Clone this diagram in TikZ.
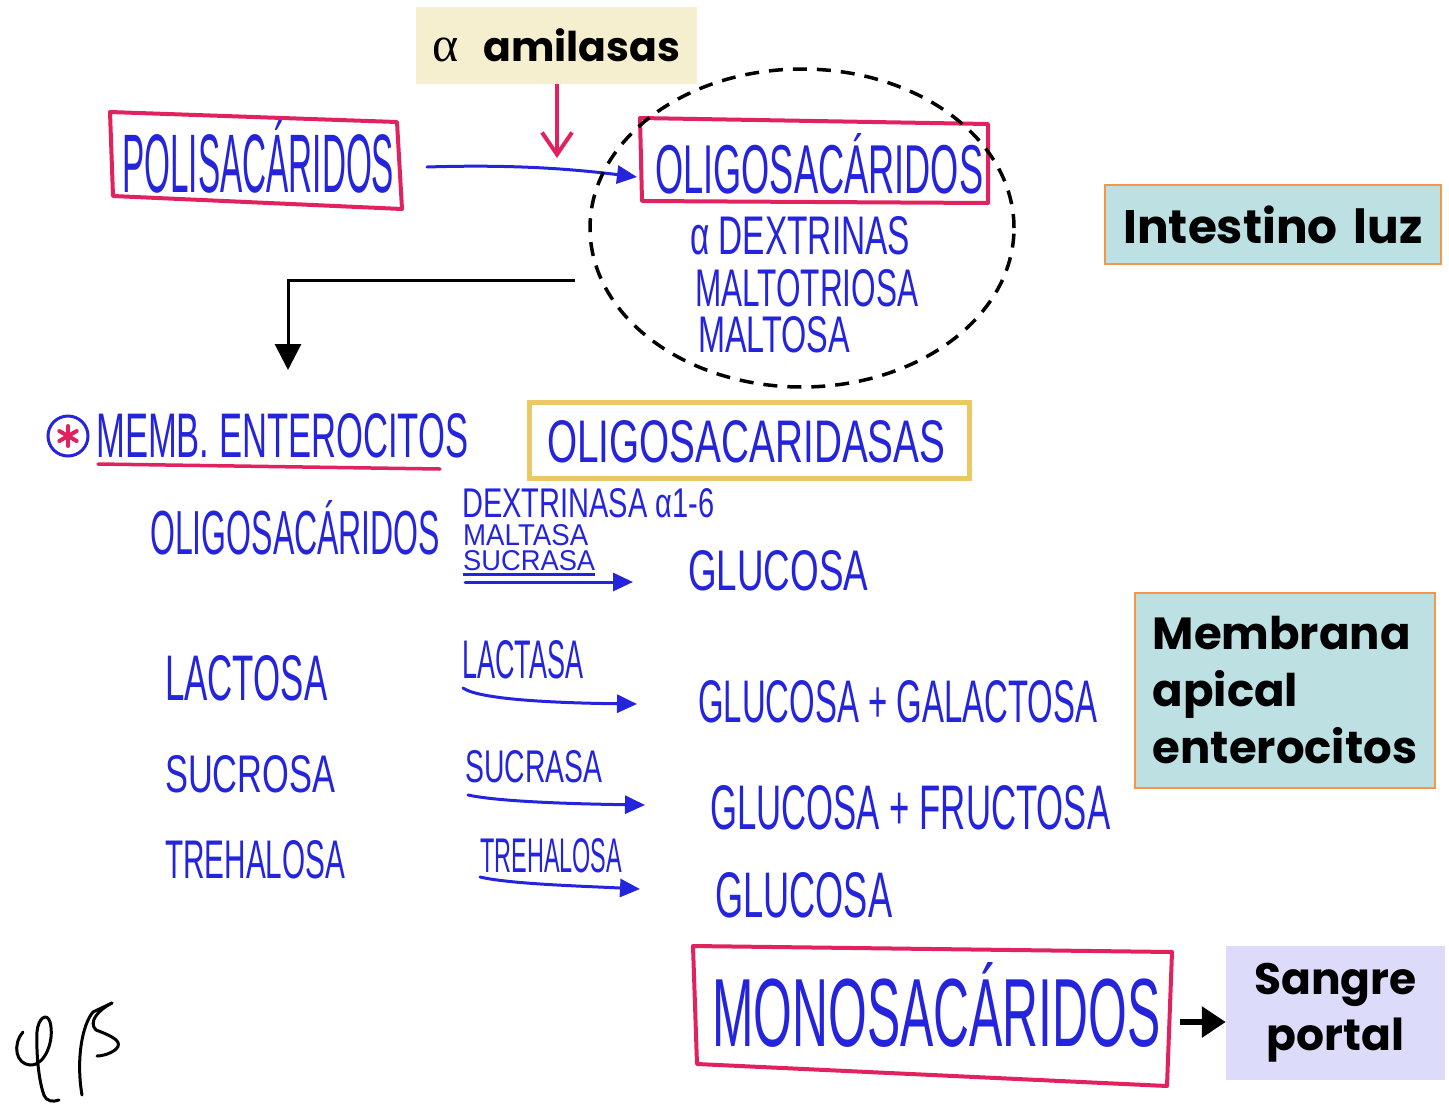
\documentclass[tikz,border=0pt]{standalone}
\usepackage{fontspec}
\usepackage{graphicx}
\usetikzlibrary{arrows.meta,shapes.geometric,calc}

\newfontfamily\hwfont{Liberation Sans}
\newfontfamily\labfont{Poppins}
\newfontfamily\greekfont{Liberation Serif}

\definecolor{ink}{HTML}{2424DC}
\definecolor{marker}{HTML}{E2225E}
\definecolor{cream}{HTML}{F5EFCF}
\definecolor{aqua}{HTML}{BDE0E3}
\definecolor{edge}{HTML}{F79646}
\definecolor{lav}{HTML}{DCDCFA}
\definecolor{gold}{HTML}{EAC865}

% hand lettering squeezed into a given width and height
\newcommand\hw[3]{\resizebox{#1pt}{#2pt}{\hwfont #3}}

\tikzset{
  hand/.style={anchor=north west, inner sep=0pt, text=ink},
  pen/.style={marker, line width=4pt, line join=round, line cap=round},
  inkarrow/.style={ink, line width=3pt, line cap=round, -{Triangle[length=20pt,width=18pt]}},
  tagbox/.style={fill=aqua, draw=edge, line width=2.5pt, inner sep=0pt,
                 font=\labfont\bfseries},
}

\begin{document}
\begin{tikzpicture}[x=1pt,y=-1pt]
\useasboundingbox (0,0) rectangle (1449,1104);

% ---- luminal digestion --------------------------------------------------
\node[fill=cream, minimum width=281pt, minimum height=77pt, inner sep=0pt,
      font=\labfont\bfseries\fontsize{41}{48}\selectfont] (amil) at (556.5,45.5)
      {{\greekfont\mdseries\fontsize{50}{50}\selectfont α}\hspace{24pt}amilasas};
\coordinate (amilhit) at (557,158);
\draw[marker, line width=4pt, -{Straight Barb[length=22pt,width=30pt]}]
  (amil.south -| amilhit) -- (amilhit);

% polysaccharides
\draw[pen] (110,112) -- (397,122) -- (402,209) -- (113,196) -- cycle;
\node[hand] (poly) at (122,120) {\hw{272}{72}{POLISACÁRIDOS}};

% oligosaccharides in the lumen
\draw[pen] (640,118) -- (988,124) -- (988,203) -- (642,201) -- cycle;
\node[hand] (oligoA) at (655,133) {\hw{328}{60}{OLIGOSACÁRIDOS}};
\node[hand] (dextr) at (690,216) {\hw{220}{38}{α DEXTRINAS}};
\node[hand] (maltotr) at (695,269) {\hw{223}{37}{MALTOTRIOSA}};
\node[hand] (maltosa) at (698,316) {\hw{152}{36}{MALTOSA}};

\coordinate (polyE) at (427,167);
\coordinate (oligoW) at (637,177);
\draw[inkarrow] (polyE) .. controls (520,164) and (580,170) .. (oligoW);

\node[ellipse, draw, line width=3.5pt, dash pattern=on 14pt off 10pt,
      minimum width=424pt, minimum height=318pt, inner sep=0pt] (lumen) at (802,228) {};

\coordinate (lumenW) at (575,280);
\coordinate (down) at (288,370);
\draw[line width=3pt, -{Triangle[length=26pt,width=26pt]}] (lumenW) -| (down);

\node[tagbox, minimum width=336pt, minimum height=79pt,
      font=\labfont\bfseries\fontsize{47}{56}\selectfont] (luz) at (1273,224.5)
      {Intestino\hspace{6pt} luz};

% ---- brush border ---------------------------------------------------------
\node[circle, draw=ink, line width=3pt, minimum size=40pt, inner sep=0pt] (star) at (68,436) {};
\foreach \a in {90,30,150}
  \draw[marker, line width=4pt, line cap=round]
    ($(star.center)+(\a:10)$) -- ($(star.center)+(\a+180:10)$);
\node[hand] (memb) at (96,413) {\hw{372}{44}{MEMB. ENTEROCITOS}};
\draw[marker, line width=3.5pt, line cap=round] (98,464) -- (440,469);

\node[draw=gold, line width=5pt, minimum width=440pt, minimum height=76pt, inner sep=0pt]
  (enzbox) at (749,440) {};
\node[hand] (enz) at (547,420) {\hw{398}{42}{OLIGOSACARIDASAS}};

\node[hand] (oligoB) at (150,500) {\hw{290}{54}{OLIGOSACÁRIDOS}};
\node[hand] (dxa) at (462,488) {\hw{252}{29}{DEXTRINASA α1-6}};
\node[hand] (malt) at (463,524) {\hw{125}{21}{MALTASA}};
\node[hand] (sucrA) at (463,550) {\hw{132}{20}{SUCRASA}};
\draw[ink, line width=3pt] (sucrA.south west) ++(0,4) -- ++(132,0);
\coordinate (a1s) at (465,582);
\coordinate (a1e) at (633,582);
\draw[inkarrow] (a1s) -- (a1e);
\node[hand] (glu1) at (688,550) {\hw{180}{40}{GLUCOSA}};

\node[hand] (lact) at (165,655) {\hw{162}{45}{LACTOSA}};
\node[hand] (lacta) at (462,640) {\hw{121}{38}{LACTASA}};
\coordinate (a2s) at (463,688);
\coordinate (a2e) at (637,704);
\draw[inkarrow] (a2s) .. controls (480,700) and (560,703) .. (a2e);
\node[hand] (gg) at (698,680) {\hw{399}{42}{GLUCOSA + GALACTOSA}};

\node[hand] (sucro) at (165,755) {\hw{170}{37}{SUCROSA}};
\node[hand] (sucrB) at (465,750) {\hw{137}{32}{SUCRASA}};
\coordinate (a3s) at (468,795);
\coordinate (a3e) at (645,805);
\draw[inkarrow] (a3s) .. controls (500,802) and (580,804) .. (a3e);
\node[hand] (gf) at (710,785) {\hw{400}{44}{GLUCOSA + FRUCTOSA}};

\node[hand] (treh) at (165,840) {\hw{180}{38}{TREHALOSA}};
\node[hand] (trehB) at (480,838) {\hw{142}{34}{TREHALOSA}};
\coordinate (a4s) at (480,877);
\coordinate (a4e) at (640,889);
\draw[inkarrow] (a4s) .. controls (510,884) and (580,886) .. (a4e);
\node[hand] (glu3) at (715,872) {\hw{177}{45}{GLUCOSA}};

\node[tagbox, minimum width=300pt, minimum height=195pt, align=left,
      font=\labfont\bfseries\fontsize{45}{57}\selectfont] (apical) at (1285,690.5)
      {Membrana\\apical\\enterocitos};

% ---- absorption -----------------------------------------------------------
\draw[pen] (693,946) -- (1172,952) -- (1167,1086) -- (697,1064) -- cycle;
\node[hand] (mono) at (712,962) {\hw{448}{84}{MONOSACÁRIDOS}};

\node[fill=lav, minimum width=219pt, minimum height=134pt, inner sep=0pt, align=center,
      font=\labfont\bfseries\fontsize{44}{56}\selectfont] (blood) at (1335.5,1013)
      {Sangre\\portal};
\coordinate (monoE) at (1180,1022);
\draw[line width=6pt, -{Triangle[length=24pt,width=30pt]}] (monoE) -- (blood.west |- monoE);

% initials
\begin{scope}[line width=3pt, line cap=round, line join=round]
  \draw (23,1032) .. controls (12,1045) and (16,1064) .. (30,1065)
        .. controls (45,1066) and (55,1040) .. (50,1022)
        .. controls (47,1012) and (38,1018) .. (37,1032)
        .. controls (36,1060) and (40,1085) .. (44,1095)
        .. controls (47,1102) and (53,1102) .. (59,1100);
  \draw (93,1012) .. controls (82,1025) and (76,1060) .. (82,1095);
  \draw (93,1012) -- (112,1003);
  \draw (112,1003) .. controls (98,1010) and (88,1022) .. (96,1030)
        .. controls (112,1036) and (125,1042) .. (115,1050)
        .. controls (108,1055) and (100,1056) .. (97,1056);
\end{scope}
\end{tikzpicture}
\end{document}
